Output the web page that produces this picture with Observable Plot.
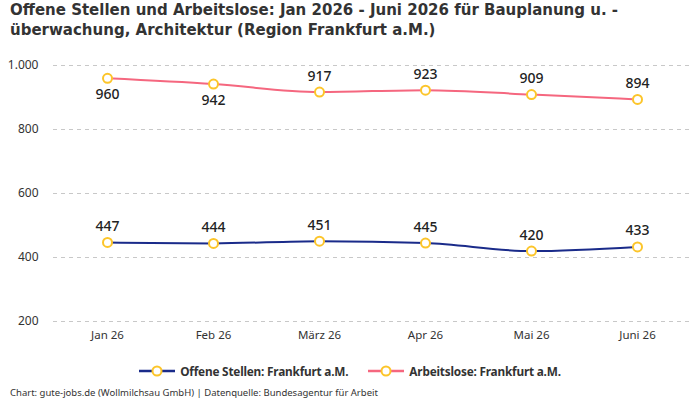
<!DOCTYPE html>
<html lang="de">
<head>
<meta charset="utf-8">
<script src="https://cdn.jsdelivr.net/npm/d3@7"></script>
<script src="https://cdn.jsdelivr.net/npm/@observablehq/plot@0.6"></script>
<style>
  body { margin: 0; background: #fff; font-family: "Noto Sans", sans-serif; color: #333; }
  #wrap { position: relative; width: 700px; height: 400px; overflow: hidden; }
  #title { position: absolute; left: 10px; top: 0px; font-family: "DejaVu Sans", sans-serif; font-size: 15px; font-weight: 700; line-height: 20px; color: #333; white-space: nowrap; }
  #chart { position: absolute; left: 0; top: 42px; }
  #legend { position: absolute; top: 363px; left: 0; width: 700px; display: flex; justify-content: center; gap: 20px; font-family: "Noto Sans", sans-serif; font-size: 11.8px; letter-spacing: -0.2px; font-weight: 700; color: #333; }
  #legend .item { display: flex; align-items: center; gap: 5px; }
  #footer { position: absolute; left: 10px; top: 386px; font-size: 9.5px; color: #333; }
</style>
</head>
<body>
<div id="wrap">
  <div id="title">Offene Stellen und Arbeitslose: Jan 2026 - Juni 2026 für Bauplanung u. -<br>überwachung, Architektur (Region Frankfurt a.M.)</div>
  <div id="chart"></div>
  <div id="legend"></div>
  <div id="footer">Chart: gute-jobs.de (Wollmilchsau GmbH) | Datenquelle: Bundesagentur für Arbeit</div>
</div>
<script>
// Monate und Werte
const months = ["Jan 26", "Feb 26", "März 26", "Apr 26", "Mai 26", "Juni 26"];
const offeneStellen = [447, 444, 451, 445, 420, 433];
const arbeitslose = [960, 942, 917, 923, 909, 894];
const seriesNames = ["Offene Stellen: Frankfurt a.M.", "Arbeitslose: Frankfurt a.M."];
const seriesColors = ["#1a2b8a", "#f5677f"];
const yTicks = [200, 400, 600, 800, 1000];

const markerColor = "#fcc52a";
const de = new Intl.NumberFormat("de-DE");

const rows = [
  ...months.map((m, i) => ({month: m, value: offeneStellen[i], series: seriesNames[0]})),
  ...months.map((m, i) => ({month: m, value: arbeitslose[i], series: seriesNames[1]}))
];

// Beschriftungen der Arbeitslosen liegen am Anfang unter der Linie
const below = new Set(["Jan 26", "Feb 26"]);
const labelsAbove = rows.filter(d => !(d.series === seriesNames[1] && below.has(d.month)));
const labelsBelow = rows.filter(d => d.series === seriesNames[1] && below.has(d.month));

const chart = Plot.plot({
  width: 700,
  height: 305,
  marginTop: 23,
  marginBottom: 26,
  marginLeft: 53,
  marginRight: 10,
  style: {fontFamily: "Noto Sans, sans-serif", color: "#333", background: "transparent"},
  x: {type: "point", domain: months, padding: 0.5, label: null},
  y: {domain: [200, 1000], ticks: yTicks, tickFormat: d => de.format(d), label: null},
  color: {domain: seriesNames, range: seriesColors},
  marks: [
    Plot.gridY(yTicks, {stroke: "#c8c8c8", strokeOpacity: 1, strokeDasharray: "4,4"}),
    Plot.axisY({ticks: yTicks, tickSize: 0, tickPadding: 15, fontSize: 12, tickFormat: d => de.format(d)}),
    Plot.axisX({tickSize: 0, tickPadding: 9, fontSize: 11.5}),
    Plot.line(rows, {x: "month", y: "value", z: "series", stroke: "series", strokeWidth: 2, curve: "monotone-x"}),
    Plot.dot(rows, {x: "month", y: "value", r: 4.5, fill: "white", stroke: markerColor, strokeWidth: 2}),
    Plot.text(labelsAbove, {x: "month", y: "value", text: d => de.format(d.value), dy: -16, fontSize: 14, fontWeight: 500, fill: "#222"}),
    Plot.text(labelsBelow, {x: "month", y: "value", text: d => de.format(d.value), dy: 16, fontSize: 14, fontWeight: 500, fill: "#222"})
  ]
});
document.getElementById("chart").append(chart);

// Legende
const legend = document.getElementById("legend");
seriesNames.forEach((name, i) => {
  const item = document.createElement("div");
  item.className = "item";
  item.innerHTML = `<svg width="36" height="12"><line x1="0" y1="6" x2="36" y2="6" stroke="${seriesColors[i]}" stroke-width="2.5"/><circle cx="18" cy="6" r="4.5" fill="white" stroke="${markerColor}" stroke-width="2"/></svg><span>${name}</span>`;
  legend.append(item);
});
</script>
</body>
</html>
